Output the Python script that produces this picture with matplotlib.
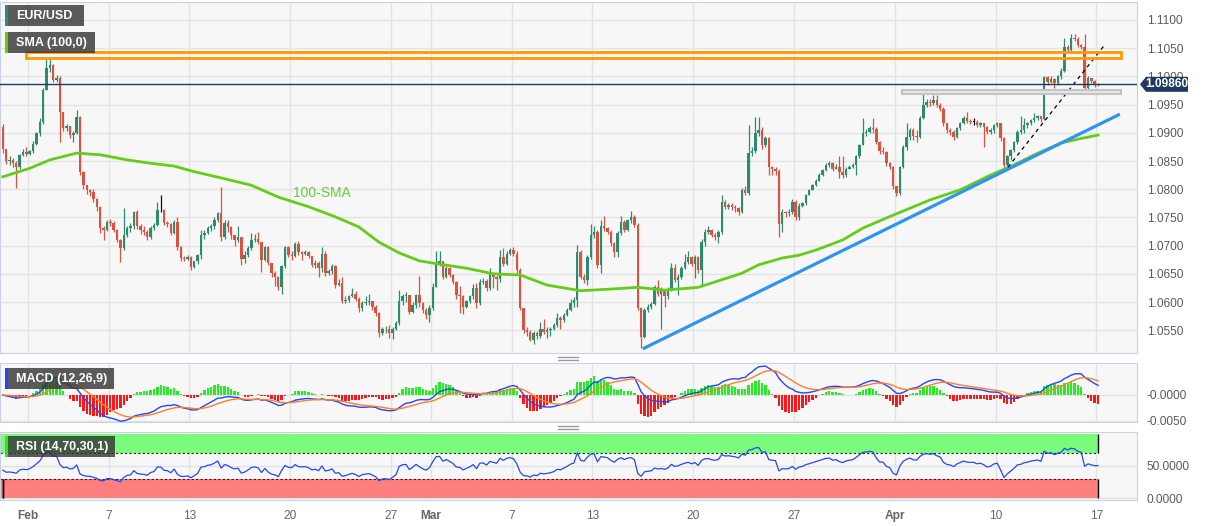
import numpy as np
import matplotlib
matplotlib.use('Agg')
import matplotlib.pyplot as plt
import pandas as pd
from matplotlib.patches import Rectangle, Polygon
from matplotlib.lines import Line2D
import matplotlib.transforms as mtransforms

plt.rcParams['font.family'] = ['Liberation Sans', 'DejaVu Sans']

W, H = 1207, 526

#-------------------------------------------------------------
# EUR/USD 4H candles (Jan 30 16:00 .. Apr 17 00:00)
# prices in pips above 1.0000, open = previous close
first_open = 911
close_pips = [
    872, 850, 852, 846, 840, 860, 866, 862, 868, 881,
    899, 920, 976, 1014, 1020, 994, 998, 937, 908, 912,
    896, 900, 928, 830, 808, 798, 795, 782, 768, 731,
    728, 742, 740, 728, 710, 695, 719, 731, 734, 760,
    734, 727, 725, 716, 731, 736, 763, 763, 740, 738,
    722, 742, 698, 678, 677, 680, 662, 672, 683, 719,
    722, 731, 734, 745, 758, 716, 740, 733, 719, 710,
    715, 677, 683, 695, 710, 712, 707, 675, 698, 669,
    651, 645, 627, 663, 698, 683, 681, 703, 688, 686,
    688, 681, 666, 670, 660, 686, 651, 655, 663, 630,
    633, 601, 604, 610, 615, 606, 589, 598, 600, 602,
    592, 580, 545, 552, 553, 545, 553, 562, 601, 610,
    612, 583, 595, 612, 598, 586, 577, 590, 627, 669,
    672, 645, 660, 648, 636, 612, 610, 592, 601, 610,
    624, 598, 636, 637, 624, 651, 645, 640, 680, 668,
    686, 692, 686, 657, 589, 550, 547, 533, 545, 539,
    553, 547, 550, 553, 559, 571, 568, 577, 586, 598,
    604, 689, 645, 639, 680, 719, 725, 666, 734, 731,
    725, 704, 689, 722, 742, 728, 745, 751, 737, 589,
    538, 586, 592, 596, 627, 615, 620, 610, 623, 660,
    639, 645, 660, 671, 680, 668, 680, 657, 707, 725,
    728, 719, 716, 724, 778, 769, 772, 769, 766, 760,
    799, 793, 864, 868, 899, 905, 878, 890, 840, 835,
    832, 739, 760, 757, 760, 778, 751, 770, 775, 790,
    798, 807, 815, 825, 834, 843, 846, 835, 840, 830,
    825, 835, 840, 843, 858, 878, 899, 902, 908, 906,
    884, 867, 866, 846, 840, 805, 793, 840, 875, 893,
    905, 895, 893, 926, 949, 955, 952, 958, 949, 943,
    917, 905, 902, 893, 908, 917, 926, 921, 920, 920,
    914, 917, 911, 902, 905, 914, 917, 890, 843, 858,
    870, 884, 902, 905, 914, 917, 923, 926, 929, 924,
    999, 990, 996, 988, 1000, 1010, 1053, 1047, 1068, 1066,
    1056, 1053, 979, 997, 991, 985, 986]
high_pips = [
    915, 872, 858, 856, 850, 863, 872, 875, 870, 886,
    902, 926, 980, 1032, 1030, 1022, 1003, 1000, 935, 916,
    910, 904, 940, 929, 832, 808, 800, 800, 785, 770,
    735, 745, 748, 744, 730, 712, 767, 735, 740, 762,
    764, 738, 735, 728, 734, 740, 777, 790, 765, 744,
    740, 746, 750, 700, 682, 684, 682, 672, 685, 728,
    728, 735, 738, 750, 760, 804, 745, 745, 735, 718,
    734, 715, 690, 700, 722, 720, 725, 706, 700, 700,
    670, 655, 647, 665, 700, 700, 690, 706, 708, 690,
    692, 690, 682, 675, 672, 698, 690, 658, 668, 665,
    640, 645, 610, 612, 625, 620, 608, 602, 610, 615,
    602, 594, 582, 556, 558, 560, 555, 566, 621, 614,
    617, 612, 600, 615, 646, 600, 590, 594, 634, 690,
    690, 672, 664, 662, 650, 638, 628, 612, 604, 612,
    632, 634, 640, 642, 640, 660, 652, 648, 692, 695,
    690, 695, 698, 690, 660, 590, 556, 550, 548, 548,
    565, 570, 555, 556, 562, 580, 575, 580, 590, 605,
    608, 701, 692, 650, 684, 738, 735, 728, 745, 752,
    733, 728, 706, 726, 752, 745, 748, 761, 755, 740,
    592, 590, 596, 600, 630, 639, 626, 622, 626, 670,
    668, 650, 663, 686, 690, 682, 684, 682, 712, 730,
    735, 730, 722, 728, 789, 780, 776, 775, 772, 768,
    802, 805, 914, 875, 928, 928, 910, 895, 892, 842,
    840, 835, 765, 762, 765, 782, 780, 775, 778, 792,
    800, 810, 818, 828, 836, 846, 850, 848, 845, 858,
    858, 840, 843, 846, 861, 880, 926, 906, 912, 926,
    910, 886, 874, 868, 848, 842, 806, 842, 878, 917,
    908, 908, 905, 930, 973, 960, 960, 967, 967, 952,
    946, 918, 908, 905, 910, 920, 930, 937, 925, 926,
    922, 920, 918, 912, 908, 916, 919, 918, 892, 860,
    872, 886, 905, 929, 926, 920, 925, 935, 932, 930,
    1001, 1000, 1000, 998, 1003, 1015, 1068, 1055, 1075, 1075,
    1070, 1058, 1075, 1000, 998, 993, 988]
low_pips = [
    865, 845, 843, 840, 802, 836, 858, 858, 860, 864,
    878, 895, 915, 976, 1008, 990, 990, 884, 904, 904,
    890, 884, 898, 825, 800, 792, 788, 778, 762, 722,
    710, 726, 735, 724, 706, 671, 693, 715, 725, 730,
    730, 720, 718, 710, 712, 728, 734, 760, 736, 733,
    718, 720, 692, 672, 672, 674, 657, 660, 668, 676,
    712, 720, 726, 730, 742, 708, 712, 725, 712, 700,
    706, 666, 670, 680, 692, 706, 702, 654, 672, 665,
    645, 629, 622, 614, 660, 680, 675, 680, 684, 675,
    684, 678, 662, 660, 645, 654, 647, 648, 650, 625,
    628, 598, 598, 600, 608, 602, 582, 584, 594, 594,
    585, 575, 538, 542, 545, 536, 535, 550, 560, 595,
    600, 578, 580, 590, 592, 580, 570, 565, 586, 627,
    664, 640, 642, 644, 632, 605, 580, 579, 590, 598,
    606, 590, 595, 632, 620, 622, 624, 622, 636, 664,
    666, 684, 682, 652, 585, 545, 540, 530, 525, 535,
    536, 544, 536, 540, 550, 556, 553, 565, 575, 584,
    592, 592, 640, 634, 630, 676, 714, 660, 651, 726,
    720, 700, 680, 680, 718, 724, 726, 740, 733, 585,
    518, 536, 582, 588, 594, 610, 552, 592, 606, 620,
    636, 612, 640, 658, 668, 664, 642, 652, 630, 700,
    720, 715, 710, 704, 720, 765, 765, 763, 760, 754,
    757, 790, 790, 858, 865, 895, 872, 875, 826, 826,
    825, 716, 725, 750, 752, 756, 745, 745, 768, 772,
    790, 798, 805, 818, 824, 832, 840, 832, 835, 820,
    820, 822, 835, 838, 825, 855, 878, 895, 900, 900,
    880, 862, 862, 842, 836, 800, 788, 790, 838, 870,
    888, 888, 883, 890, 924, 945, 948, 950, 945, 938,
    912, 900, 896, 887, 890, 905, 915, 918, 915, 914,
    910, 910, 875, 898, 898, 900, 910, 885, 838, 840,
    852, 866, 880, 898, 900, 908, 914, 920, 922, 920,
    922, 985, 988, 979, 985, 996, 1008, 1044, 1045, 1062,
    1052, 1048, 975, 973, 988, 982, 983]

# 100 SMA (candle index -> pips)
sma_idx = [0, 8, 14, 22, 29, 37, 44, 51, 57, 65, 74, 82, 91, 99, 106, 112,
           118, 124, 130, 138, 146, 154, 162, 172, 181, 189, 197, 207, 220,
           225, 232, 237, 242, 250, 256, 263, 276, 285, 294, 301, 307, 315,
           321, 326]
sma_pips = [822, 837, 852, 864, 861, 852, 846, 841, 831, 820, 807, 786, 769,
            751, 733, 706, 687, 673, 667, 660, 650, 648, 630, 620, 623, 626,
            621, 626, 651, 666, 678, 683, 692, 710, 731, 749, 781, 799, 825,
            843, 861, 882, 890, 896]

# date axis: trading day number counted from Feb 1
tick_days = [0, 4, 8, 13, 18, 20, 24, 28, 33, 38, 43, 48, 53]
tick_labels = ['Feb', '7', '13', '20', '27', 'Mar', '7', '13', '20', '27',
               'Apr', '10', '17']
month_labels = ['Feb', 'Mar', 'Apr']

# drawings on the chart (candle index, price)
orange_zone = (6.8, 332.7, 1.10335, 1.10438)
grey_zone = (267.8, 332.7, 1.0968, 1.0975)
support_x, support_y = [190.5, 332.5], [1.0517, 1.0933]
dash_x, dash_y = [299.2, 328.0], [1.0839, 1.1056]

#-------------------------------------------------------------
n = len(close_pips)
x = np.arange(n)
close = 1 + np.array(close_pips) / 10000
hi = 1 + np.array(high_pips) / 10000
lo = 1 + np.array(low_pips) / 10000
op = np.r_[1 + first_open / 10000, close[:-1]]
hi = np.maximum(hi, np.maximum(op, close))
lo = np.minimum(lo, np.minimum(op, close))
sma = 1 + np.array(sma_pips) / 10000
tick_x = 7.5 + 6 * np.array(tick_days)

# indicators
s = pd.Series(close)
macd = s.ewm(span=12, adjust=False).mean() - s.ewm(span=26, adjust=False).mean()
signal = macd.ewm(span=9, adjust=False).mean()
hist = 2 * (macd - signal).values   # histogram drawn doubled, as on the platform
ag, al = 0.0010, 0.0010
rsi = []
for d in close - op:
    ag = (ag * 13 + max(d, 0)) / 14
    al = (al * 13 + max(-d, 0)) / 14
    rsi.append(100 - 100 / (1 + ag / al))

#-------------------------------------------------------------
fig = plt.figure(figsize=(W / 100, H / 100), dpi=100)
fig.patch.set_facecolor('white')
axw = 1137 / W
ax = fig.add_axes([0, 1 - 353 / H, axw, 351 / H])
ax2 = fig.add_axes([0, 1 - 422 / H, axw, 59 / H])
ax3 = fig.add_axes([0, 1 - 500 / H, axw, 68 / H])
xlim = (-0.83, 337.6)

for a in (ax, ax2, ax3):
    a.set_facecolor('#f7f7f7')
    a.set_xlim(*xlim)
    a.set_xticks(tick_x)
    a.grid(True, color='#e3e3e3', lw=1)
    a.set_axisbelow(True)
    a.yaxis.tick_right()
    a.tick_params(axis='both', length=0, labelsize=8.6, labelcolor='#5a5a5a', pad=7)
    for sp in a.spines.values():
        sp.set_color('#c9d1e3')
    a.tick_params(axis='x', labelbottom=False)

# price panel
up_c, dn_c = '#2f8a6e', '#d75443'
cols = np.where(close > op, up_c, np.where(close < op, dn_c, '#111111'))
ax.vlines(x, lo, hi, colors=cols, lw=0.9, zorder=3)
ax.bar(x, np.maximum(np.abs(close - op), 0.00004), bottom=np.minimum(op, close),
       width=0.72, color=cols, linewidth=0, zorder=4)
ax.plot(sma_idx, sma, color='#66cc1a', lw=2, zorder=5)
ax.text(86.4, 1.0793, '100-SMA', color='#66cc33', fontsize=10, va='center', ha='left')
ax.plot(support_x, support_y, color='#2d95f0', lw=2.3, zorder=5, solid_capstyle='butt')
ax.plot(dash_x, dash_y, color='black', lw=0.9, dashes=(3, 3), zorder=5)
ax.add_patch(Rectangle((orange_zone[0], orange_zone[2]), orange_zone[1] - orange_zone[0],
                       orange_zone[3] - orange_zone[2], fill=False, edgecolor='#ff9900',
                       lw=2, zorder=6))
ax.add_patch(Rectangle((grey_zone[0], grey_zone[2]), grey_zone[1] - grey_zone[0],
                       grey_zone[3] - grey_zone[2], facecolor='#e6e6e6', edgecolor='#c4c4c4',
                       lw=1.5, zorder=6))
last = close[-1]
ax.axhline(last, color='#1f3b63', lw=1, zorder=6)
ax.set_ylim(1.05096, 1.11319)
yt = np.arange(1.055, 1.1101, 0.005)
ax.set_yticks(yt)
ax.set_yticklabels([f'{v:.4f}' for v in yt])

# last price tag
trans = mtransforms.blended_transform_factory(ax.transAxes, ax.transData)
hh = 7.5 * (1.11319 - 1.05096) / 351
px = lambda p: p / 1137
tag = Polygon([(px(1140), last), (px(1146), last + hh), (px(1188), last + hh),
               (px(1188), last - hh), (px(1146), last - hh)], closed=True,
              transform=trans, facecolor='#1e3a5f', edgecolor='none',
              clip_on=False, zorder=10)
ax.add_patch(tag)
ax.text(px(1167), last, f'{last:.5f}', transform=trans, color='white', fontsize=8.6,
        fontweight='bold', ha='center', va='center', zorder=11, clip_on=False)

# MACD panel
ax2.bar(x, hist, width=0.7, color=np.where(hist >= 0, '#22ee22', '#ff1515'),
        linewidth=0, zorder=2)
ax2.plot(x, macd.values, color='#2447f5', lw=1, zorder=3)
ax2.plot(x, signal.values, color='#ff7f27', lw=1, zorder=3)
ax2.set_ylim(-0.0052, 0.00615)
ax2.set_yticks([-0.005, 0.0])
ax2.set_yticklabels(['-0.0050', '-0.0000'])

# RSI panel
last_i = n - 1
ax3.add_patch(Rectangle((xlim[0], 70), last_i - xlim[0], 30, facecolor='#7bfb7b',
                        edgecolor='none', zorder=1))
ax3.add_patch(Rectangle((xlim[0], 0), last_i - xlim[0], 30, facecolor='#ff7e7e',
                        edgecolor='none', zorder=1))
ax3.hlines([70, 30], xlim[0], last_i, colors='#222222', lw=0.8, linestyles=(0, (2, 2)), zorder=2)
ax3.vlines([last_i, last_i], [70, 0], [100, 30], colors='black', lw=1, zorder=2)
ax3.vlines([0, 0], [0, 0], [30, 30], colors='black', lw=1, zorder=2)
ax3.plot(x, rsi, color='#2447f5', lw=0.9, zorder=3)
ax3.set_ylim(-3, 103)
ax3.set_yticks([0, 50])
ax3.set_yticklabels(['0.0000', '50.0000'])
ax3.tick_params(axis='x', labelbottom=True, pad=7, labelcolor='#666666')
ax3.set_xticklabels(tick_labels)
for lab in ax3.get_xticklabels():
    if lab.get_text() in month_labels:
        lab.set_fontweight('bold')


# label boxes in the panel corners
def label_box(x0, y0, w, h, text, stripe):
    fig.add_artist(Rectangle((x0 / W, 1 - (y0 + h) / H), w / W, h / H,
                             transform=fig.transFigure, facecolor='#333333',
                             alpha=0.8, edgecolor='none'))
    fig.add_artist(Rectangle((x0 / W, 1 - (y0 + h) / H), 2.5 / W, h / H,
                             transform=fig.transFigure, facecolor=stripe,
                             edgecolor='none'))
    fig.text((x0 + 11) / W, 1 - (y0 + h / 2 + 0.5) / H, text, color='white',
             fontsize=9, fontweight='bold', va='center', ha='left')


label_box(5, 5, 79, 21, 'EUR/USD', '#2e8b7a')
label_box(5, 32, 90, 21, 'SMA (100,0)', '#66cc00')
label_box(5, 368, 109, 21, 'MACD (12,26,9)', '#2244ff')
label_box(5, 436, 110, 21, 'RSI (14,70,30,1)', '#33dd33')

# panel resize handles
for yy in (357, 360, 426, 429):
    fig.add_artist(Line2D([558 / W, 578 / W], [1 - yy / H, 1 - yy / H],
                          transform=fig.transFigure, color='#9a9a9a', lw=1))

fig.savefig('out.png', dpi=100, facecolor='white')
